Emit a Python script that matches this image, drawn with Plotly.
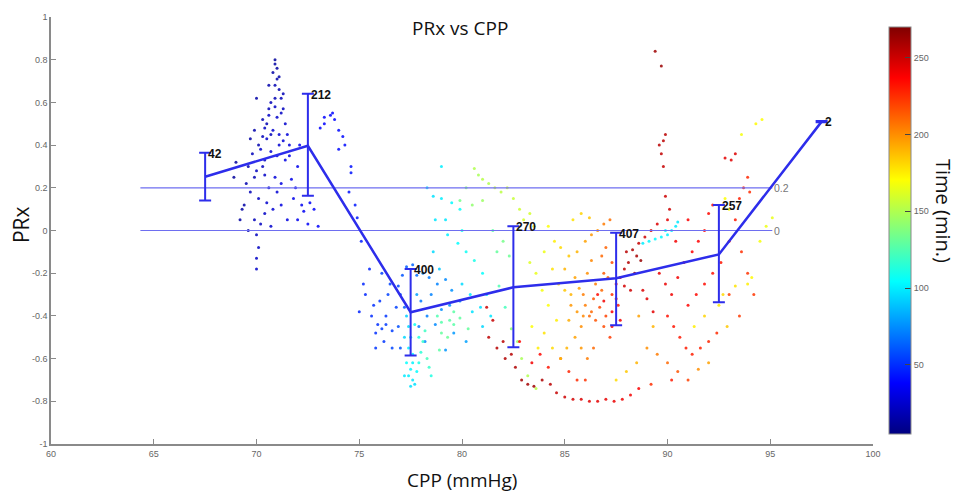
import plotly.graph_objects as go

# ---------------- data ----------------
bin_cpp = [67.5, 72.5, 77.5, 82.5, 87.5, 92.5, 97.5]
bin_mean = [0.252, 0.397, -0.383, -0.266, -0.224, -0.112, 0.51]
bin_upper = [0.364, 0.640, -0.180, 0.020, -0.010, 0.120, 0.513]
bin_lower = [0.140, 0.163, -0.585, -0.547, -0.444, -0.336, 0.507]
bin_count = ["42", "212", "400", "270", "407", "257", "2"]

ref_levels = [0.2, 0.0]
ref_labels = ["0.2", "0"]
ref_x_start = 64.35
ref_x_end = 95.1

y_tickvals = [1, 0.8, 0.6, 0.4, 0.2, 0, -0.2, -0.4, -0.6, -0.8, -1]
y_ticktext = ["1", "0.8", "0.6", "0.4", "0.2", "0", "-0.2", "-0.4", "-0.6", "-0.8", "-1"]
x_tickvals = [60, 65, 70, 75, 80, 85, 90, 95, 100]
cbar_ticks = [50, 100, 150, 200, 250]
time_min, time_max = 5, 270

# scatter samples: (CPP, PRx, time)
pts_early = [
    (70.9, 0.80, 12), (70.9, 0.78, 14), (71.0, 0.76, 13), (70.8, 0.74, 15), (71.0, 0.71, 16),
    (70.9, 0.68, 18), (71.1, 0.66, 17), (71.2, 0.62, 20), (70.7, 0.60, 19), (70.9, 0.58, 22),
    (71.3, 0.57, 21), (70.6, 0.54, 23), (71.0, 0.53, 24), (71.4, 0.50, 25), (70.4, 0.48, 22),
    (70.8, 0.47, 26), (71.1, 0.45, 27), (70.5, 0.43, 25), (71.3, 0.42, 28), (71.6, 0.40, 29),
    (70.2, 0.38, 24), (70.7, 0.37, 27), (71.0, 0.35, 30), (71.4, 0.33, 31), (69.8, 0.36, 20),
    (69.6, 0.30, 18), (70.0, 0.28, 21), (70.4, 0.26, 23), (70.9, 0.25, 28), (71.2, 0.22, 30),
    (71.7, 0.24, 32), (72.0, 0.30, 33), (69.5, 0.22, 17), (69.7, 0.18, 19), (70.1, 0.15, 22),
    (70.5, 0.13, 25), (70.8, 0.10, 27), (71.2, 0.12, 30), (71.8, 0.15, 33), (72.3, 0.09, 35),
    (69.9, 0.05, 20), (70.2, 0.03, 22), (70.0, -0.02, 21), (70.1, -0.08, 22), (70.0, -0.13, 23),
    (70.0, -0.18, 24), (69.7, 0.43, 15), (69.9, 0.47, 16), (70.3, 0.52, 18), (70.6, 0.57, 19),
    (71.5, 0.45, 28), (71.6, 0.35, 31), (72.2, 0.12, 34), (72.6, 0.13, 36), (72.8, 0.10, 37),
    (73.1, 0.48, 38), (73.3, 0.53, 38), (73.6, 0.54, 39), (73.8, 0.52, 39), (73.3, 0.50, 38),
    (74.0, 0.47, 40), (74.2, 0.44, 40), (74.3, 0.40, 41), (74.6, 0.30, 42), (74.5, 0.18, 42),
    (73.7, 0.55, 39), (74.0, 0.38, 40), (69.2, 0.05, 14), (69.4, 0.12, 15), (68.9, 0.25, 12),
    (69.0, 0.32, 13), (69.3, 0.10, 14), (70.3, 0.44, 20), (70.6, 0.68, 16), (71.2, 0.55, 23),
    (70.0, 0.62, 15), (70.4, 0.33, 22), (71.9, 0.20, 33), (72.1, 0.40, 34), (69.6, 0.00, 16),
    (70.5, 0.50, 18), (70.7, 0.45, 20), (71.1, 0.40, 26), (70.3, 0.30, 21), (70.6, 0.20, 24),
    (71.0, 0.18, 27), (70.4, 0.08, 23), (70.7, 0.02, 25), (71.5, 0.05, 30), (72.0, 0.05, 34),
    (72.5, 0.03, 36), (73.0, 0.02, 37), (69.9, 0.25, 18), (70.1, 0.40, 17), (70.9, 0.62, 18),
    (71.3, 0.64, 19), (71.1, 0.72, 15),
]
pts_descent = [
    (74.6, 0.27, 43), (74.8, 0.12, 44), (74.9, 0.06, 45), (75.1, -0.05, 46), (75.5, -0.18, 47),
    (75.3, -0.30, 48), (75.6, -0.40, 49), (75.9, -0.44, 50), (76.3, -0.40, 52), (76.0, -0.33, 51),
    (76.3, -0.44, 53), (76.6, -0.47, 54), (75.8, -0.48, 50), (76.2, -0.52, 52), (76.8, -0.36, 55),
    (76.9, -0.26, 57), (77.1, -0.21, 60), (77.3, -0.17, 62), (77.6, -0.16, 64), (77.8, -0.21, 66),
    (78.1, -0.20, 68), (78.4, -0.22, 70), (78.8, -0.25, 72), (79.2, -0.23, 74), (79.5, -0.28, 76),
    (79.9, -0.33, 78), (78.0, -0.33, 70), (78.5, -0.30, 72), (79.0, -0.37, 75), (78.7, -0.44, 74),
    (79.6, -0.48, 78), (80.2, -0.52, 80), (79.2, -0.56, 77), (78.2, -0.52, 73), (77.9, -0.45, 70),
    (76.6, -0.55, 56), (75.8, -0.55, 52), (76.4, -0.30, 55), (75.2, -0.25, 48), (76.1, -0.20, 54),
    (75.0, -0.38, 47), (76.9, -0.45, 58), (77.0, -0.55, 60), (78.3, -0.40, 71), (79.4, -0.35, 76),
    (76.5, -0.25, 56), (77.0, -0.30, 60), (77.2, -0.36, 62), (75.7, -0.35, 50), (76.1, -0.46, 53),
]
pts_trough = [
    (77.3, -0.40, 92), (77.4, -0.45, 95), (77.5, -0.50, 98), (77.4, -0.55, 100), (77.6, -0.58, 103),
    (77.3, -0.62, 105), (77.5, -0.65, 102), (77.4, -0.68, 100), (77.6, -0.70, 98), (77.7, -0.72, 96),
    (77.2, -0.68, 99), (77.8, -0.66, 104), (77.9, -0.62, 110), (78.0, -0.57, 115), (78.1, -0.52, 118),
    (78.2, -0.47, 120), (77.7, -0.44, 108), (78.3, -0.60, 122), (78.4, -0.64, 118), (78.5, -0.68, 112),
    (77.9, -0.50, 112), (77.2, -0.50, 94), (78.8, -0.40, 125), (79.0, -0.43, 126), (79.4, -0.42, 128),
    (79.6, -0.44, 127), (79.9, -0.41, 129), (80.3, -0.46, 130), (77.6, -0.62, 101), (77.5, -0.73, 97),
    (79.0, -0.48, 130), (79.3, -0.50, 132), (78.9, -0.56, 128), (79.6, -0.38, 128),
]
pts_mid = [
    (80.6, 0.29, 150), (80.8, 0.26, 148), (81.0, 0.24, 152), (81.3, 0.22, 150), (81.6, 0.20, 155),
    (81.9, 0.18, 153), (82.2, 0.20, 157), (82.5, 0.15, 156), (82.8, 0.10, 158), (83.0, 0.05, 160),
    (83.3, 0.08, 159), (83.5, 0.02, 161), (80.2, 0.20, 140), (79.9, 0.14, 135), (80.5, 0.12, 142),
    (81.0, 0.14, 145), (78.3, 0.20, 95), (78.6, 0.16, 97), (79.0, 0.15, 100), (79.5, 0.13, 103),
    (79.9, 0.10, 106), (78.7, 0.05, 98), (79.3, -0.02, 100), (79.8, -0.06, 104), (80.2, -0.10, 107),
    (80.6, -0.14, 110), (81.0, -0.20, 105), (81.2, -0.30, 100), (80.9, -0.36, 96), (81.4, -0.40, 98),
    (81.0, -0.45, 94), (80.5, -0.38, 97), (81.7, -0.10, 130), (82.0, -0.05, 135), (82.3, -0.12, 132),
    (81.5, 0.00, 128), (81.8, -0.26, 125), (82.1, -0.36, 122), (82.4, -0.46, 140), (82.7, -0.52, 145),
    (82.9, -0.60, 148), (83.2, -0.68, 150), (83.6, -0.74, 152), (79.0, 0.30, 100), (80.0, 0.00, 108),
    (77.8, -0.30, 80), (78.6, -0.10, 95), (79.2, 0.05, 98), (78.9, -0.18, 90), (80.0, -0.25, 95),
    (80.4, -0.30, 100),
]
pts_late_low = [
    (81.2, -0.36, 250), (81.5, -0.42, 252), (81.3, -0.50, 254), (81.7, -0.55, 256), (82.0, -0.52, 255),
    (82.1, -0.60, 257), (82.4, -0.58, 256), (82.6, -0.64, 258), (82.9, -0.70, 260), (83.2, -0.72, 261),
    (83.5, -0.73, 262), (83.9, -0.70, 258), (84.3, -0.72, 255), (84.6, -0.76, 252), (85.0, -0.78, 250),
    (85.4, -0.79, 248), (85.8, -0.79, 246), (86.2, -0.80, 245), (86.6, -0.80, 244), (87.0, -0.79, 243),
    (87.4, -0.80, 242), (87.8, -0.79, 241), (88.2, -0.77, 240), (88.6, -0.74, 238), (82.8, -0.52, 236),
    (83.4, -0.62, 240), (83.8, -0.58, 235), (84.2, -0.64, 232), (84.8, -0.60, 230), (85.2, -0.66, 228),
    (85.6, -0.70, 226), (86.0, -0.70, 224),
]
pts_plateau = [
    (84.2, 0.02, 170), (84.5, -0.05, 175), (84.8, -0.08, 180), (85.2, -0.12, 185), (85.6, -0.10, 190),
    (86.0, -0.05, 195), (86.3, -0.02, 198), (86.6, 0.00, 200), (86.9, 0.03, 205), (87.2, 0.05, 208),
    (85.4, 0.05, 178), (85.8, 0.08, 182), (86.2, 0.06, 186), (85.0, -0.18, 190), (85.5, -0.22, 195),
    (86.1, -0.20, 200), (86.5, -0.25, 205), (86.8, -0.28, 210), (87.1, -0.22, 212), (86.4, -0.32, 215),
    (86.7, -0.36, 218), (87.0, -0.40, 220), (86.2, -0.40, 210), (85.8, -0.45, 200), (85.5, -0.50, 195),
    (85.1, -0.55, 190), (84.8, -0.60, 185), (84.4, -0.55, 180), (84.6, -0.42, 175), (84.2, -0.35, 170),
    (83.9, -0.28, 168), (83.6, -0.20, 165), (83.3, -0.15, 162), (84.0, -0.10, 166), (87.3, -0.30, 225),
    (87.5, -0.32, 228), (87.6, -0.35, 230), (86.9, -0.45, 218), (87.2, -0.50, 222), (84.0, -0.48, 178),
    (83.7, -0.55, 175), (83.4, -0.45, 170), (85.9, -0.30, 205), (86.3, -0.14, 202), (86.8, -0.12, 210),
    (86.6, -0.30, 235), (86.9, -0.33, 240), (87.3, -0.38, 238), (86.5, -0.42, 215), (85.3, -0.35, 198),
    (85.0, -0.28, 185), (85.3, -0.30, 190), (85.7, -0.27, 195), (86.0, -0.35, 205), (86.3, -0.38, 210),
    (85.6, -0.38, 198), (85.9, -0.40, 202), (86.9, -0.20, 214), (87.3, -0.15, 218), (87.0, -0.08, 212),
    (84.7, -0.25, 182), (84.4, -0.18, 178), (85.2, -0.42, 192), (85.8, -0.55, 198), (86.1, -0.60, 205),
    (86.4, -0.55, 210),
]
pts_late_high = [
    (88.0, -0.10, 255), (88.3, -0.09, 258), (88.5, -0.12, 260), (88.1, -0.15, 257), (87.9, -0.18, 254),
    (88.6, -0.06, 252), (88.9, -0.03, 250), (89.2, 0.00, 248), (89.5, 0.03, 246), (90.0, 0.05, 244),
    (89.6, -0.20, 243), (89.9, -0.25, 242), (90.2, -0.30, 241), (90.5, -0.22, 240), (90.8, -0.15, 239),
    (91.2, -0.10, 238), (91.5, -0.05, 237), (91.8, 0.00, 236), (92.0, 0.08, 235), (92.2, 0.12, 234),
    (90.0, -0.40, 233), (90.3, -0.45, 232), (90.6, -0.50, 231), (90.9, -0.55, 230), (91.2, -0.58, 229),
    (91.6, -0.55, 228), (92.0, -0.52, 227), (92.4, -0.48, 226), (89.0, -0.32, 245), (89.3, -0.38, 244),
    (88.8, -0.28, 246), (91.0, -0.35, 236), (91.4, -0.30, 235), (91.8, -0.25, 234), (92.2, -0.20, 233),
    (92.6, -0.15, 232), (93.0, -0.05, 231), (93.3, 0.05, 230), (93.5, 0.15, 229), (93.7, 0.20, 228),
    (93.9, 0.25, 227), (93.1, 0.33, 245), (93.3, 0.36, 246), (92.8, 0.34, 244), (89.9, 0.45, 255),
    (89.8, 0.42, 254), (89.7, 0.36, 253), (89.9, 0.16, 250), (89.4, 0.84, 262), (89.7, 0.77, 263),
    (94.0, 0.18, 226), (93.6, -0.10, 225), (93.9, -0.20, 224), (94.2, -0.30, 223), (93.5, -0.40, 222),
    (93.0, -0.30, 221), (88.4, -0.20, 262), (88.7, -0.14, 264), (90.4, -0.05, 240), (91.0, 0.05, 238),
    (87.7, -0.22, 245), (87.9, -0.26, 248), (88.2, -0.28, 250), (87.5, -0.25, 242), (87.3, -0.45, 235),
    (87.7, -0.42, 240), (89.6, 0.40, 255), (89.8, 0.30, 252), (90.1, 0.10, 250),
]
pts_cyan_streak = [
    (88.8, -0.06, 100), (89.1, -0.05, 102), (89.4, -0.04, 104), (89.7, -0.03, 103), (90.0, -0.02, 101),
    (90.2, 0.00, 100), (90.4, 0.02, 99), (90.5, 0.04, 98), (89.9, 0.00, 102),
]
pts_late_scatter = [
    (89.0, -0.55, 200), (89.5, -0.58, 205), (90.0, -0.62, 210), (90.5, -0.66, 215), (91.0, -0.70, 220),
    (91.5, -0.65, 200), (92.0, -0.62, 195), (88.5, -0.62, 190), (88.0, -0.66, 185), (87.5, -0.70, 180),
    (89.2, -0.72, 225), (90.2, -0.70, 230), (92.8, 0.15, 170), (93.0, 0.10, 172), (93.6, 0.45, 168),
    (94.3, 0.50, 172), (94.6, 0.52, 170), (93.9, -0.25, 175), (94.1, -0.22, 172), (93.3, -0.26, 178),
    (92.7, -0.30, 180), (92.5, -0.35, 176), (91.8, -0.40, 182), (94.5, -0.05, 168), (94.8, 0.02, 166),
    (95.1, 0.06, 165), (89.3, -0.45, 190), (88.6, -0.40, 195), (91.3, -0.45, 175), (92.9, -0.45, 185),
]

all_pts = (pts_early + pts_descent + pts_trough + pts_mid + pts_late_low
           + pts_plateau + pts_late_high + pts_cyan_streak + pts_late_scatter)
pt_cpp = [p[0] for p in all_pts]
pt_prx = [p[1] for p in all_pts]
pt_time = [p[2] for p in all_pts]

# ---------------- styling ----------------
matlab_jet = [
    [0.0, "rgb(0,0,128)"], [0.125, "rgb(0,0,255)"], [0.375, "rgb(0,255,255)"],
    [0.625, "rgb(255,255,0)"], [0.875, "rgb(255,0,0)"], [1.0, "rgb(128,0,0)"],
]
line_blue = "rgb(45,45,235)"
ref_blue = "rgb(110,110,240)"
axis_gray = "#8a8a8a"
tick_font = dict(family="Liberation Sans, Arial", size=9, color="#666666")
label_family = "Open Sans, Lato, sans-serif"

fig = go.Figure()

fig.add_trace(go.Scatter(
    x=pt_cpp, y=pt_prx, mode="markers",
    marker=dict(size=3, color=pt_time, colorscale=matlab_jet, cmin=time_min, cmax=time_max,
                opacity=0.85,
                colorbar=dict(x=1.0195, xanchor="left", xpad=0, y=0.5, yanchor="middle",
                              len=1.0, lenmode="fraction", thickness=22, thicknessmode="pixels",
                              outlinecolor=axis_gray, outlinewidth=1,
                              tickvals=cbar_ticks, ticks="inside", ticklen=6,
                              tickcolor="#444", tickfont=tick_font)),
    showlegend=False, hoverinfo="skip"))

for lvl in ref_levels:
    fig.add_trace(go.Scatter(x=[ref_x_start, ref_x_end], y=[lvl, lvl], mode="lines",
                             line=dict(color=ref_blue, width=1.2), showlegend=False,
                             hoverinfo="skip"))

err_plus = [u - m for u, m in zip(bin_upper, bin_mean)]
err_minus = [m - l for m, l in zip(bin_mean, bin_lower)]
fig.add_trace(go.Scatter(
    x=bin_cpp, y=bin_mean, mode="lines",
    line=dict(color=line_blue, width=2.5),
    error_y=dict(type="data", symmetric=False, array=err_plus, arrayminus=err_minus,
                 color=line_blue, thickness=2, width=6),
    showlegend=False))

annotations = []
for x, u, c in zip(bin_cpp, bin_upper, bin_count):
    annotations.append(dict(x=x, y=u, xref="x", yref="y", text="<b>%s</b>" % c, showarrow=False,
                            xanchor="left", yanchor="middle", xshift=1, yshift=-1,
                            font=dict(family="Liberation Sans, Arial", size=12, color="#111")))
for lvl, lab in zip(ref_levels, ref_labels):
    annotations.append(dict(x=ref_x_end, y=lvl, xref="x", yref="y", text=lab, showarrow=False,
                            xanchor="left", yanchor="middle", xshift=0,
                            font=dict(family="Liberation Sans, Arial", size=10.5, color="#777")))
annotations += [
    dict(x=0.498, y=0.975, xref="paper", yref="paper", text="PRx vs CPP", showarrow=False,
         xanchor="center", yanchor="middle",
         font=dict(family=label_family, size=19, color="#111")),
    dict(x=-0.0365, y=0.515, xref="paper", yref="paper", text="PRx", showarrow=False,
         textangle=-90, xanchor="center", yanchor="middle",
         font=dict(family=label_family, size=21, color="#111")),
    dict(x=0.5, y=-0.084, xref="paper", yref="paper", text="CPP (mmHg)", showarrow=False,
         xanchor="center", yanchor="middle",
         font=dict(family=label_family, size=19, color="#111")),
    dict(x=1.0855, y=0.545, xref="paper", yref="paper", text="Time (min.)", showarrow=False,
         textangle=90, xanchor="center", yanchor="middle",
         font=dict(family=label_family, size=20, color="#111")),
]

fig.update_layout(
    width=956, height=492,
    margin=dict(l=51, r=83, t=15, b=48),
    paper_bgcolor="white", plot_bgcolor="white",
    annotations=annotations,
    xaxis=dict(range=[60, 100], tickvals=x_tickvals, showgrid=False, zeroline=False,
               showline=True, linecolor=axis_gray, linewidth=1.5, ticks="inside",
               ticklen=5, tickcolor=axis_gray, tickfont=tick_font),
    yaxis=dict(range=[-1, 1], tickvals=y_tickvals, ticktext=y_ticktext, showgrid=False,
               zeroline=False, showline=True, linecolor=axis_gray, linewidth=1.5,
               ticks="inside", ticklen=5, tickcolor=axis_gray, tickfont=tick_font),
)

# remove the browser's default 8px body margin so the figure fills the window exactly
fig.write_html("out.html", config={"displayModeBar": False},
               post_script="document.body.style.margin='0';")
